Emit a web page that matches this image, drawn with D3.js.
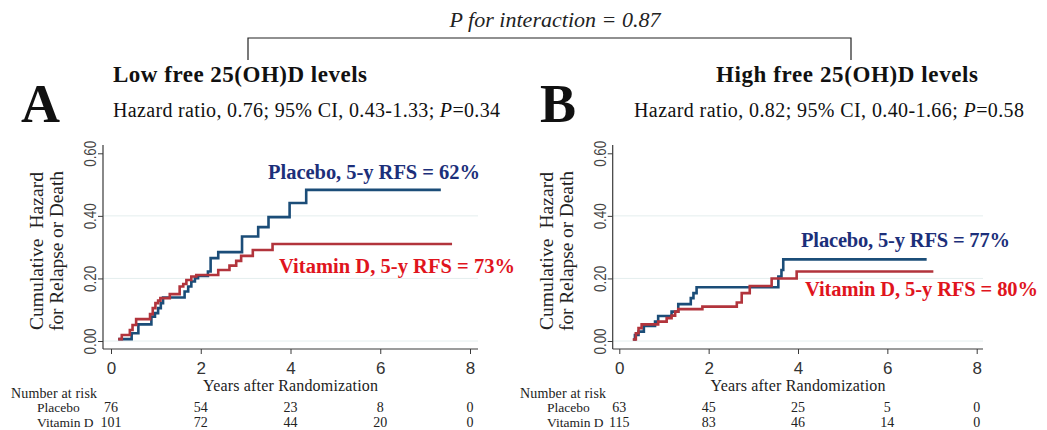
<!DOCTYPE html>
<html>
<head>
<meta charset="utf-8">
<script src="https://cdn.jsdelivr.net/npm/d3@7"></script>
<style>
  html, body { margin: 0; padding: 0; background: #ffffff; }
  svg { display: block; }
</style>
</head>
<body>
<svg id="chart" width="1047" height="430"></svg>
<script>
// ---------------- data ----------------
const panelLetters = ["A", "B"];
const panelTitles = ["Low free 25(OH)D levels", "High free 25(OH)D levels"];
const hazardRatios = ["0.76", "0.82"];
const ciLower = ["0.43", "0.40"];
const ciUpper = ["1.33", "1.66"];
const pValues = ["0.34", "0.58"];
const interactionP = "0.87";
const groupNames = ["Placebo", "Vitamin D"];
const rfsLow = [62, 73];    // 5-year relapse-free survival, %, placebo / vitamin D
const rfsHigh = [77, 80];
const xTicks = [0, 2, 4, 6, 8];
const yTicks = [0, 0.2, 0.4, 0.6];
const riskTimes = [0, 2, 4, 6, 8];
const atRiskLowPlacebo = [76, 54, 23, 8, 0];
const atRiskLowVitD = [101, 72, 44, 20, 0];
const atRiskHighPlacebo = [63, 45, 25, 5, 0];
const atRiskHighVitD = [115, 83, 46, 14, 0];

// Nelson-Aalen step curves: [years after randomization, cumulative hazard]
const lowPlacebo = [
  [0.16, 0.006], [0.46, 0.025], [0.61, 0.053], [0.90, 0.078], [0.98, 0.089],
  [1.05, 0.105], [1.11, 0.121], [1.16, 0.139], [1.64, 0.158], [1.72, 0.174],
  [1.79, 0.190], [1.87, 0.201], [1.94, 0.208], [2.16, 0.222], [2.22, 0.265],
  [2.39, 0.284], [2.92, 0.334], [3.28, 0.364], [3.51, 0.396], [3.98, 0.441],
  [4.35, 0.483], [7.35, 0.483]
];
const lowVitD = [
  [0.16, 0.006], [0.24, 0.019], [0.42, 0.035], [0.48, 0.051], [0.56, 0.070],
  [0.87, 0.086], [0.93, 0.105], [0.99, 0.121], [1.05, 0.129], [1.10, 0.137],
  [1.31, 0.150], [1.53, 0.174], [1.61, 0.182], [1.68, 0.195], [1.79, 0.206],
  [1.90, 0.211], [2.39, 0.227], [2.64, 0.241], [2.79, 0.256], [2.90, 0.272],
  [3.16, 0.291], [3.60, 0.310], [7.60, 0.310]
];
const highPlacebo = [
  [0.31, 0.005], [0.35, 0.019], [0.43, 0.030], [0.55, 0.048], [0.80, 0.062],
  [0.87, 0.080], [1.17, 0.094], [1.32, 0.118], [1.60, 0.137], [1.66, 0.153],
  [1.73, 0.172], [3.56, 0.206], [3.63, 0.227], [3.67, 0.261], [6.88, 0.261]
];
const highVitD = [
  [0.30, 0.005], [0.37, 0.025], [0.43, 0.041], [0.50, 0.053], [0.87, 0.062],
  [1.06, 0.073], [1.17, 0.081], [1.25, 0.094], [1.32, 0.102], [1.86, 0.110],
  [2.63, 0.123], [2.74, 0.153], [2.92, 0.176], [3.41, 0.200], [3.97, 0.222],
  [7.03, 0.222]
];

// ---------------- styling ----------------
const SERIF = "'Liberation Serif', 'Times New Roman', serif";
const SANS = "'Liberation Sans', Arial, sans-serif";
const LINE_BLUE = "#1b4d78";
const LINE_RED = "#b2343c";
const TEXT_BLUE = "#1c2f7a";
const TEXT_RED = "#e0141d";
const AXIS = "#3a3a3a";
const GRID = "#e4eeee";

const svg = d3.select("#chart");

// text helper: optionally stretched to a given advance width
function label(g, x, y, txt, opts = {}) {
  const t = g.append("text")
    .attr("x", x).attr("y", y)
    .attr("font-family", opts.family || SERIF)
    .attr("font-size", opts.size || 16)
    .attr("font-weight", opts.weight || "normal")
    .attr("font-style", opts.style || "normal")
    .attr("fill", opts.fill || "#111")
    .attr("text-anchor", opts.anchor || "start")
    .text(txt);
  if (opts.width) t.attr("textLength", opts.width).attr("lengthAdjust", opts.adjust || "spacing");
  if (opts.rotate) t.attr("transform", `rotate(${opts.rotate},${x},${y})`);
  return t;
}

// ---------------- top bracket ----------------
label(svg, 555, 27, `P for interaction = ${interactionP}`,
  { size: 22, style: "italic", anchor: "middle", fill: "#222", width: 211 });
svg.append("path")
  .attr("d", "M248,60 V38 H851 V60")
  .attr("fill", "none").attr("stroke", "#222").attr("stroke-width", 1.2);

// ---------------- panels ----------------
const panels = [
  {
    letter: panelLetters[0], title: panelTitles[0], hr: hazardRatios[0], lo: ciLower[0], hi: ciUpper[0], p: pValues[0],
    curves: [lowPlacebo, lowVitD], rfs: rfsLow, risk: [atRiskLowPlacebo, atRiskLowVitD],
    letterX: 21, titleX: 113, titleW: 254, hrX: 113, hrW: 387,
    axisL: 103, axisR: 478, x0: 111, x8: 470,
    yTitleX: [43, 63], riskLabelX: 11, groupX: 37,
    ann: [{ x: 268, y: 179, w: 212 }, { x: 279, y: 273, w: 236 }]
  },
  {
    letter: panelLetters[1], title: panelTitles[1], hr: hazardRatios[1], lo: ciLower[1], hi: ciUpper[1], p: pValues[1],
    curves: [highPlacebo, highVitD], rfs: rfsHigh, risk: [atRiskHighPlacebo, atRiskHighVitD],
    letterX: 540, titleX: 716, titleW: 262, hrX: 634, hrW: 390,
    axisL: 612.7, axisR: 983, x0: 619.3, x8: 976.7,
    yTitleX: [553, 573], riskLabelX: 520, groupX: 547,
    ann: [{ x: 801, y: 247, w: 209 }, { x: 805, y: 296, w: 233 }]
  }
];

const yTop = 145, yBottom = 349;
const y = d3.scaleLinear().domain([0, 0.6]).range([341, 153.3]);

panels.forEach(P => {
  const g = svg.append("g");
  const x = d3.scaleLinear().domain([0, 8]).range([P.x0, P.x8]);

  // headings
  label(g, P.letterX, 122, P.letter, { size: 54, weight: "bold", fill: "#111" });
  label(g, P.titleX, 82, P.title, { size: 23, weight: "bold", fill: "#111", width: P.titleW });
  const hr = label(g, P.hrX, 117, "", { size: 20, fill: "#111", width: P.hrW });
  hr.append("tspan").text(`Hazard ratio, ${P.hr}; 95% CI, ${P.lo}-${P.hi}; `);
  hr.append("tspan").attr("font-style", "italic").text("P");
  hr.append("tspan").text(`=${P.p}`);

  // gridlines
  g.append("g").selectAll("line").data(yTicks.filter(v => v < 0.6)).join("line")
    .attr("x1", P.axisL).attr("x2", P.axisR)
    .attr("y1", d => y(d)).attr("y2", d => y(d))
    .attr("stroke", GRID).attr("stroke-width", 1);

  // y axis
  const ya = g.append("g").attr("transform", `translate(${P.axisL},0)`)
    .call(d3.axisLeft(y).tickValues(yTicks).tickFormat(d3.format(".2f")).tickSize(5).tickSizeOuter(0));
  ya.select(".domain").remove();
  ya.selectAll(".tick line").attr("stroke", AXIS);
  ya.selectAll(".tick text")
    .attr("font-family", SANS).attr("font-size", 16).attr("fill", "#444")
    .attr("x", 0).attr("dy", 0).attr("text-anchor", "middle")
    .attr("textLength", 26).attr("lengthAdjust", "spacingAndGlyphs")
    .attr("transform", "translate(-7,0) rotate(-90)");
  g.append("line").attr("x1", P.axisL).attr("x2", P.axisL).attr("y1", yTop).attr("y2", yBottom)
    .attr("stroke", AXIS).attr("stroke-width", 1.2);

  // x axis
  const xa = g.append("g").attr("transform", `translate(0,${yBottom})`)
    .call(d3.axisBottom(x).tickValues(xTicks).tickSize(5).tickSizeOuter(0));
  xa.select(".domain").remove();
  xa.selectAll(".tick line").attr("stroke", AXIS);
  xa.selectAll(".tick text")
    .attr("font-family", SANS).attr("font-size", 17).attr("fill", "#333")
    .attr("y", 25).attr("dy", 0);
  g.append("line").attr("x1", P.axisL).attr("x2", P.axisR).attr("y1", yBottom).attr("y2", yBottom)
    .attr("stroke", AXIS).attr("stroke-width", 1.2);

  // y axis title (two lines)
  const midY = 251;
  label(g, P.yTitleX[0], midY, "Cumulative  Hazard",
    { size: 19.5, anchor: "middle", fill: "#222", rotate: -90, width: 158 }).attr("xml:space", "preserve");
  label(g, P.yTitleX[1], midY, "for Relapse or Death",
    { size: 19.5, anchor: "middle", fill: "#222", rotate: -90, width: 160 });

  // curves
  const line = d3.line().x(d => x(d[0])).y(d => y(d[1])).curve(d3.curveStepAfter);
  const colors = [LINE_BLUE, LINE_RED];
  P.curves.forEach((c, i) => {
    g.append("path").datum(c).attr("d", line)
      .attr("fill", "none").attr("stroke", colors[i])
      .attr("stroke-width", 2.6).attr("stroke-linejoin", "miter").attr("stroke-linecap", "butt");
  });

  // curve annotations
  const annColors = [TEXT_BLUE, TEXT_RED];
  groupNames.forEach((name, i) => {
    label(g, P.ann[i].x, P.ann[i].y, `${name}, 5-y RFS = ${P.rfs[i]}%`,
      { size: 20.5, weight: "bold", fill: annColors[i], width: P.ann[i].w });
  });

  // x axis title and number-at-risk table
  label(g, x(4), 391, "Years after Randomization", { size: 16, anchor: "middle", fill: "#222", width: 175 });
  label(g, P.riskLabelX, 398, "Number at risk", { size: 14, fill: "#222", width: 86 });
  groupNames.forEach((name, i) => {
    const rowY = 412 + i * 14.5;
    label(g, P.groupX, rowY, name, { size: 13.5, fill: "#222" });
    g.append("g").selectAll("text").data(P.risk[i]).join("text")
      .attr("x", (d, k) => x(riskTimes[k]))
      .attr("y", rowY)
      .attr("text-anchor", "middle")
      .attr("font-family", SERIF).attr("font-size", 14).attr("fill", "#222")
      .text(d => d);
  });
});
</script>
</body>
</html>
